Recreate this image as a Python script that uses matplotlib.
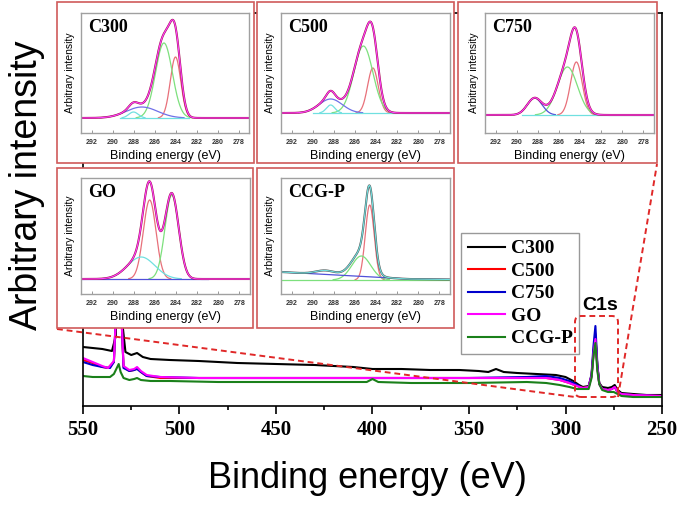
import numpy as np
import matplotlib.pyplot as plt
from matplotlib.patches import Rectangle, FancyBboxPatch
from matplotlib.lines import Line2D

W, H = 685, 507
plt.rcParams['font.family'] = ['Liberation Sans', 'DejaVu Sans']

# survey spectra: binding energy (eV) and intensity (arb.)
e_c300 = [550, 545, 540, 535, 533, 531.5, 530, 528, 525, 522, 519, 515, 505, 490, 470, 450, 430, 410,
          400, 385, 370, 355, 345, 340, 336, 332, 325, 315, 305, 300, 296, 293, 291, 288, 286.5, 285.5,
          284.5, 283.5, 282.5, 281, 278, 276, 274.5, 273, 271, 265, 258, 250]
i_c300 = [59, 58, 57, 55, 70, 200, 90, 54, 51, 53, 49, 47, 46, 45, 43, 42, 41, 39,
          37, 37, 36, 36, 35, 34, 37, 34, 33, 32, 31, 29, 25, 21, 19, 20, 30, 52,
          70, 40, 23, 19, 18, 19, 21, 16, 13, 12, 11, 11]

e_c500 = [550, 545, 540, 537, 534, 532.5, 531.5, 530.5, 529, 526, 523.5, 522, 520, 517, 510, 490, 450,
          400, 350, 320, 310, 303, 298, 294, 291, 288, 286.5, 285.5, 284.5, 283.5, 282.5, 281, 278,
          276, 274.5, 273, 271, 265, 250]
i_c500 = [46, 43, 39, 38, 44, 110, 200, 110, 39, 35, 36, 38, 34, 30, 28, 28, 28,
          28, 28, 28, 28, 26, 23, 20, 18, 19, 31, 55, 72, 40, 22, 17, 16,
          17, 19, 14, 12, 11, 10]

e_c750 = [550, 545, 540, 536, 534, 532.5, 531.5, 530.5, 529, 526, 523.5, 522, 520, 517, 510, 490, 450,
          400, 350, 320, 310, 303, 298, 294, 291, 288, 286.5, 285.5, 284.5, 283.5, 282.5, 281, 278,
          276, 274.5, 273, 271, 265, 250]
i_c750 = [44, 41, 39, 38, 44, 110, 210, 110, 38, 35, 36, 37, 34, 30, 29, 28, 28,
          28, 28, 29, 30, 28, 25, 21, 17, 19, 32, 60, 80, 42, 22, 17, 16,
          17, 19, 14, 12, 11, 10]

e_go = [550, 545, 540, 537, 534, 532.5, 531.5, 530.5, 529, 526, 523.5, 522, 520, 517, 510, 490, 450,
        400, 350, 320, 310, 303, 298, 294, 291, 288, 286.5, 285.5, 284.5, 283.5, 282.5, 281, 278,
        276, 274.5, 273, 271, 265, 250]
i_go = [48, 44, 40, 38, 45, 110, 200, 110, 40, 36, 37, 39, 35, 31, 29, 28, 28,
        28, 28, 28, 28, 26, 23, 20, 18, 19, 30, 52, 67, 38, 22, 17, 16,
        17, 19, 14, 12, 11, 10]

e_ccg = [550, 545, 540, 536, 534, 532.5, 531.5, 530.5, 529, 526, 523.5, 522, 520, 515, 505, 480, 450,
         420, 403, 400, 397, 380, 350, 320, 310, 303, 298, 294, 291, 288, 286.5, 285.5, 284.5, 283.5,
         282.5, 281, 278, 275, 273, 271, 265, 250]
i_ccg = [30, 29, 29, 29, 32, 38, 42, 34, 28, 26, 27, 28, 26, 25, 25, 24, 24,
         24, 24, 27, 24, 23, 23, 24, 23, 21, 19, 17, 17, 17, 28, 50, 63, 35,
         22, 16, 14, 14, 12, 10, 9, 9]

names = ['C300', 'C500', 'C750', 'GO', 'CCG-P']

# C1s peak fits (centre eV, height, sigma) for the insets
c300_base = 15
c300_pos = [284.0, 285.1, 287.2, 288.0]
c300_amp = [61, 75, 11, 6]
c300_wid = [0.5, 0.8, 1.5, 0.45]

c500_base = 20
c500_pos = [284.3, 285.2, 288.3, 288.3]
c500_amp = [45, 67, 14, 8]
c500_wid = [0.5, 0.9, 1.1, 0.4]

c750_base = 18
c750_pos = [284.35, 285.2, 288.3]
c750_amp = [53, 48, 17]
c750_wid = [0.55, 0.95, 0.7]

go_base = 15
go_pos = [286.5, 284.4, 287.3]
go_amp = [79, 84, 22]
go_wid = [0.6, 0.65, 1.3]

ccg_base = 14
ccg_pos = [284.6, 285.4, 288.8]
ccg_amp = [75, 24, 4]
ccg_wid = [0.42, 0.9, 0.9]
ccg_bg_e = [293, 281, 277]
ccg_bg_v = [22, 15, 14.5]


def fr(x0, y0, x1, y1):
    return [x0 / W, 1 - y1 / H, (x1 - x0) / W, (y1 - y0) / H]


fig = plt.figure(figsize=(W / 100, H / 100), dpi=100)

# main survey plot
ax = fig.add_axes(fr(83, 13, 662, 406))
cols = ['black', '#ff0000', '#0000cc', '#ff00ff', '#1a801a']
series = [(e_c300, i_c300), (e_c500, i_c500), (e_c750, i_c750), (e_go, i_go), (e_ccg, i_ccg)]
for (e, i), c, n in zip(series, cols, names):
    ax.plot(e, i, color=c, lw=1.5, label=n)
ax.set_xlim(550, 250)
ax.set_ylim(0, 393)
ax.set_yticks([])
ax.set_xticks(range(550, 249, -50))
ax.set_xticks(range(525, 250, -50), minor=True)
ax.tick_params(axis='x', which='major', direction='out', length=6, width=1.2, pad=4)
ax.tick_params(axis='x', which='minor', direction='out', length=3, width=1.2)
for lab in ax.get_xticklabels():
    lab.set_fontfamily('Liberation Serif')
    lab.set_fontweight('bold')
    lab.set_fontsize(15)
for s in ax.spines.values():
    s.set_linewidth(1.2)

leg = ax.legend(loc='upper left', bbox_to_anchor=(461 / W, 1 - 233 / H), bbox_transform=fig.transFigure,
                prop={'family': 'Liberation Serif', 'weight': 'bold', 'size': 14},
                fancybox=False, edgecolor='#808080', handlelength=1.9, handletextpad=0.3,
                labelspacing=0.25, borderpad=0.35, borderaxespad=0)
leg.get_frame().set_linewidth(1.0)

fig.text(27 / W, 1 - 185 / H, 'Arbitrary intensity', rotation=90, ha='center', va='center', fontsize=27)
fig.text(367 / W, 1 - 488 / H, 'Binding energy (eV)', ha='center', va='baseline', fontsize=26)

# C1s marker box and zoom lines
red = '#e02828'
box = FancyBboxPatch((575, H - 397), 43, 81, boxstyle='round,pad=0,rounding_size=6',
                     transform=None, fill=False, ec=red, lw=1.4, ls=(0, (3, 2)), zorder=1.5)
fig.patches.append(box)
fig.lines.append(Line2D([57 / W, 575 / W], [1 - 329 / H, 1 - 397 / H], transform=fig.transFigure,
                        color=red, lw=1.4, ls=(0, (3, 2)), zorder=1.5))
fig.lines.append(Line2D([618 / W, 657 / W], [1 - 397 / H, 1 - 164 / H], transform=fig.transFigure,
                        color=red, lw=1.4, ls=(0, (3, 2)), zorder=1.5))
fig.text(600 / W, 1 - 306 / H, 'C1s', ha='center', va='center', fontsize=14, fontweight='bold')

# insets
grid = np.linspace(293, 277, 500)
comp_cols = ['#e8707a', '#7de07d', '#7070e8', '#70e0e0']


def gauss(p, a, w):
    return a * np.exp(-(grid - p) ** 2 / (2 * w ** 2))


def inset(frame, axbox, title, base, pos, amp, wid, ccols, base_col, base_rng,
          raw_col='#a0104a', fit_col='#ff44ff', bg=None, ylim=120, ndraw=None):
    fig.patches.append(Rectangle((frame[0] / W, 1 - frame[3] / H), (frame[2] - frame[0]) / W,
                                 (frame[3] - frame[1]) / H, transform=fig.transFigure,
                                 fc='white', ec='#d05a5a', lw=1.2, zorder=1.8))
    a = fig.add_axes(fr(*axbox))
    a.set_zorder(3)
    bgv = np.full_like(grid, base, dtype=float) if bg is None else np.interp(grid, bg[0][::-1], bg[1][::-1])
    env = bgv.copy()
    for k, (p, h, w) in enumerate(zip(pos, amp, wid)):
        g = gauss(p, h, w)
        env = env + g
        if ndraw is not None and k >= ndraw:
            continue
        y = base + g
        y[g < 0.3] = np.nan
        a.plot(grid, y, color=ccols[k], lw=0.9)
    m = (grid <= base_rng[0]) & (grid >= base_rng[1])
    a.plot(grid[m], bgv[m], color=base_col, lw=0.9)
    if bg is not None:
        a.plot(grid, np.full_like(grid, base), color='#7de07d', lw=0.9)
    a.plot(grid, env, color=raw_col, lw=1.5)
    a.plot(grid, env, color=fit_col, lw=0.8)
    a.set_xlim(293, 277)
    a.set_ylim(0, ylim)
    a.set_yticks([])
    a.set_xticks(range(292, 277, -2))
    a.tick_params(axis='x', direction='in', length=2, width=0.6, color='#888888',
                  labelsize=5, labelcolor='#333333', pad=4)
    for lab in a.get_xticklabels():
        lab.set_fontweight('bold')
    for s in a.spines.values():
        s.set_color('#a0a0a0')
        s.set_linewidth(1.0)
    a.set_xlabel('Binding energy (eV)', fontsize=9, labelpad=3)
    a.set_ylabel('Arbitrary intensity', fontsize=7.5, labelpad=4)
    a.text(0.04, 0.95, title, transform=a.transAxes, ha='left', va='top',
           family='Liberation Serif', fontweight='bold', fontsize=13)


inset((57, 2, 254, 163), (81, 13, 249, 133), 'C300', c300_base, c300_pos, c300_amp, c300_wid,
      comp_cols, '#70e0e0', (289.3, 282.7))
inset((257, 2, 454, 163), (281, 13, 450, 133), 'C500', c500_base, c500_pos, c500_amp, c500_wid,
      comp_cols, '#70e0e0', (290.0, 277.0))
inset((458, 2, 657, 163), (485, 13, 654, 133), 'C750', c750_base, c750_pos, c750_amp, c750_wid,
      ['#e8707a', '#7de07d', '#5050d8'], '#70e0e0', (289.5, 277.0))
inset((57, 168, 253, 328), (81, 178, 250, 294), 'GO', go_base, go_pos, go_amp, go_wid,
      ['#e8707a', '#7de07d', '#70e0e0'], '#5050d8', (293, 281), ylim=116)
inset((257, 168, 454, 328), (281, 178, 450, 294), 'CCG-P', ccg_base, ccg_pos, ccg_amp, ccg_wid,
      ['#e8707a', '#7de07d'], '#5050d8', (293, 277), raw_col='#555555', fit_col='#70e0e0',
      bg=(ccg_bg_e, ccg_bg_v), ylim=116, ndraw=2)

fig.savefig('out.png', dpi=100)
